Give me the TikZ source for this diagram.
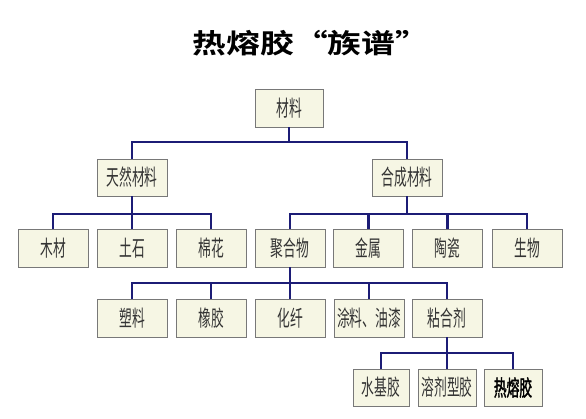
\documentclass[tikz,border=0pt]{standalone}
\usepackage{fontspec}
\newfontfamily\cjk[FakeStretch=0.58]{Noto Sans CJK SC}
\newfontfamily\cjkb[FakeBold=1.5,FakeStretch=0.58]{Noto Sans CJK SC}
\newfontfamily\cjktitle[FakeStretch=1.25]{Noto Sans CJK SC Bold}
\definecolor{boxfill}{RGB}{246,246,228}
\definecolor{boxline}{RGB}{120,120,120}
\definecolor{conncol}{RGB}{28,28,118}
\begin{document}
\begin{tikzpicture}[x=1pt,y=-1pt,
  box/.style={draw=boxline,line width=0.8pt,fill=boxfill,minimum width=70pt,minimum height=38pt,inner sep=0pt,
    font=\cjk\fontsize{22}{22}\selectfont,text=black!80},
  conn/.style={draw=conncol,line width=2.3pt},
]
\useasboundingbox (0,0) rectangle (586,418);
\fill[white] (0,0) rectangle (586,418);
\node[font=\cjktitle\fontsize{27}{27}\selectfont] (title) at (311,43) {热熔胶“族谱”};
% level 1
\node[box,minimum width=68pt] (cl) at (289,108) {材料};
% level 2
\node[box,minimum height=37pt] (tr) at (132,177.5) {天然材料};
\node[box,minimum height=37pt] (hc) at (407,177.5) {合成材料};
% level 3
\node[box] (mc) at (53,248) {木材};
\node[box] (ts) at (132,248) {土石};
\node[box] (mh) at (211,248) {棉花};
\node[box] (jh) at (290,248) {聚合物};
\node[box] (js) at (368.5,248) {金属};
\node[box] (tc) at (447.5,248) {陶瓷};
\node[box] (sw) at (527,248) {生物};
% level 4
\node[box] (sl) at (132,318) {塑料};
\node[box] (xj) at (211,318) {橡胶};
\node[box] (hx) at (290,318) {化纤};
\node[box] (tl) at (369,318) {涂料、油漆};
\node[box] (nh) at (447,318) {粘合剂};
% level 5
\node[box,minimum width=56pt,minimum height=37pt] (sj) at (381,387.5) {水基胶};
\node[box,minimum width=58pt,minimum height=37pt] (rj) at (447,387.5) {溶剂型胶};
\node[box,minimum width=58pt,minimum height=37pt,font=\cjkb\fontsize{22}{22}\selectfont,text=black] (rr) at (513,387.5) {热熔胶};
% bar levels
\coordinate (b1) at (0,142);
\coordinate (b2) at (0,214);
\coordinate (b3) at (0,283);
\coordinate (b4) at (0,353);
% connectors
\foreach \c in {tr,hc} \draw[conn] (cl.south) -- (cl.south |- b1) -| (\c.north);
\foreach \c in {mc,ts,mh} \draw[conn] (tr.south) -- (tr.south |- b2) -| (\c.north);
\foreach \c in {jh,js,tc,sw} \draw[conn] (hc.south) -- (hc.south |- b2) -| (\c.north);
\foreach \c in {sl,xj,hx,tl,nh} \draw[conn] (jh.south) -- (jh.south |- b3) -| (\c.north);
\foreach \c in {sj,rj,rr} \draw[conn] (nh.south) -- (nh.south |- b4) -| (\c.north);
\end{tikzpicture}
\end{document}
